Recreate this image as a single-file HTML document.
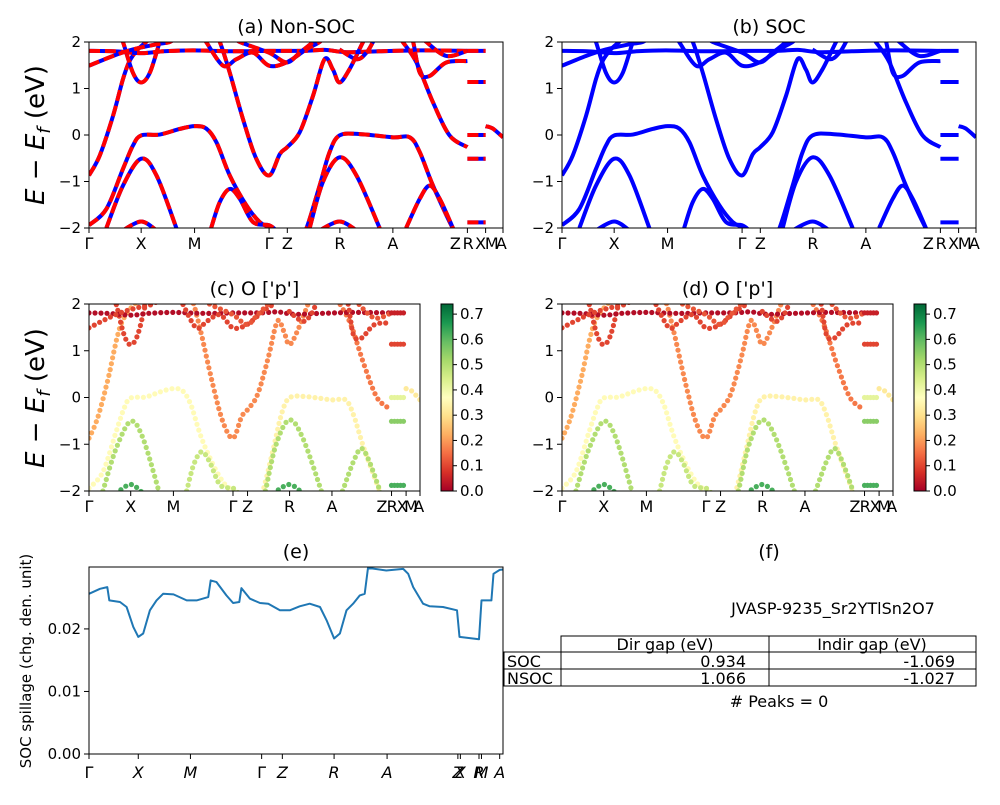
<!DOCTYPE html>
<html><head><meta charset="utf-8"><style>
body{margin:0;background:#fff}
svg{font-family:"DejaVu Sans","Liberation Sans",sans-serif}
</style></head><body>
<svg id="fig" width="1000" height="800" viewBox="0 0 1000 800" xmlns="http://www.w3.org/2000/svg">
<defs>
<linearGradient id="rdylgn" x1="0" y1="1" x2="0" y2="0">
<stop offset="0" stop-color="#a50026"/><stop offset="0.1" stop-color="#d73027"/><stop offset="0.2" stop-color="#f46d43"/><stop offset="0.3" stop-color="#fdae61"/><stop offset="0.4" stop-color="#fee08b"/><stop offset="0.5" stop-color="#ffffbf"/><stop offset="0.6" stop-color="#d9ef8b"/><stop offset="0.7" stop-color="#a6d96a"/><stop offset="0.8" stop-color="#66bd63"/><stop offset="0.9" stop-color="#1a9850"/><stop offset="1" stop-color="#006837"/>
</linearGradient>
<clipPath id="cA"><rect x="89" y="42" width="414" height="186"/></clipPath>
<clipPath id="cB"><rect x="562" y="42" width="414" height="186"/></clipPath>
<clipPath id="cC"><rect x="89" y="304" width="331" height="187"/></clipPath>
<clipPath id="cD"><rect x="562" y="304" width="331" height="187"/></clipPath>
</defs>
<g id="layer"></g>
</svg>
<script>
// ---- band data: [k (0..100 along path), E (eV)] ----
const bandVA1=[[0,-1.94],[4.2,-1.59],[8.2,-0.73],[10.6,-0.23],[12.6,-0.01],[17.1,0.01],[21.9,0.13],[25.5,0.19],[28.3,0.14],[30.8,-0.16],[34.0,-0.87],[38.0,-1.51],[41.2,-1.87],[43.5,-1.98],[45,-2.1]];
const bandVA2=[[51,-2.1],[52.5,-2.01],[55.7,-1.09],[58.1,-0.37],[60.5,-0.01],[65.4,0.02],[73.4,-0.05],[77.5,-0.05],[79.9,-0.37],[83.1,-1.09],[87.9,-2.01],[89,-2.1]];
const bandCB1=[[0,-0.87],[2.6,-0.44],[5.8,0.41],[8.2,1.2],[9.8,1.59],[11.8,1.84],[13.8,2.0],[15,2.1]];
const bandCB2=[[30.5,2.1],[31.6,2.0],[34.0,1.34],[37.2,0.34],[40.4,-0.51],[43.5,-0.87],[46.1,-0.41],[47.9,-0.26],[50.9,0.06],[54.1,0.84],[56.9,1.63],[58.9,1.41],[60.5,1.13],[62.9,1.41],[66.2,2.0],[67,2.1]];
const bandCB3=[[75,2.1],[75.8,2.0],[79.1,1.56],[83.1,0.7],[87.1,-0.01],[91.4,-0.26]];
const bandXV=[[7.5,2.1],[8.2,2.0],[10.6,1.34],[12.6,1.13],[14.7,1.34],[17.1,2.0],[17.8,2.1]];
const bandV2X=[[4.2,-2],[8.2,-1.09],[12.6,-0.51],[16.3,-0.87],[21.1,-2],[21.5,-2.1]];
const bandV2R=[[53.3,-2],[56.5,-1.01],[60.5,-0.48],[64.6,-0.87],[70.2,-2],[70.6,-2.1]];
const bandV2MG=[[29.5,-2],[31.6,-1.44],[34.0,-1.16],[36.4,-1.37],[39.6,-1.87],[43.5,-1.94],[45.2,-2.05]];
const bandV2AZ=[[76.6,-2],[79.9,-1.37],[82.3,-1.09],[84.7,-1.37],[87.9,-2],[88.3,-2.1]];
const bandDX=[[8.2,-2.05],[12.6,-1.86],[16.3,-2.05]];
const bandDR=[[55.7,-2.05],[60.5,-1.86],[64.6,-2.05]];
const bandFlat=[[0,1.81],[6,1.8],[12.6,1.76],[18,1.8],[25.1,1.82],[35,1.8],[43.5,1.81],[52,1.81],[57,1.83],[62.2,1.78],[70,1.8],[80,1.82],[91.4,1.81]];
const bandG1=[[0,1.49],[5.8,1.7],[10.6,1.84],[16.3,1.95],[19.5,2.0],[21,2.1]];
const bandU1=[[27.5,2.1],[28.3,2.0],[32.4,1.49],[35.6,1.63],[39.6,1.77],[43.5,1.49],[47.7,1.56],[52.5,1.84],[55.7,2.0],[56.5,2.1]];
const bandU2=[[35.6,2.1],[36.4,2.0],[43.5,1.77],[47.7,1.56],[50.9,1.77],[54.1,2.0],[55,2.1]];
const bandU3=[[60.5,1.84],[64.6,1.63],[67.0,1.77],[68.6,2.0],[69.3,2.1]];
const bandU4=[[77.5,2.1],[78.3,2.0],[79.9,1.34],[82.3,1.27],[86.3,1.56],[91.4,1.59]];
const bandU5=[[80.7,2.1],[81.5,2.0],[86.3,1.7],[91.4,1.81]];
const segE=[1.81,1.14,0.0,-0.51,-1.88];
const bandTail=[[95.8,0.19],[97.5,0.14],[100,-0.05]];
const bands=[bandVA1,bandVA2,bandCB1,bandCB2,bandCB3,bandXV,bandV2X,bandV2R,bandV2MG,bandV2AZ,bandDX,bandDR,bandFlat,bandG1,bandU1,bandU2,bandU3,bandU4,bandU5,bandTail];
const bandW=[0.36,0.34,0.22,0.18,0.16,0.1,0.5,0.5,0.47,0.5,0.62,0.62,0.02,0.1,0.1,0.12,0.1,0.1,0.12,0.32];
const segW=[0.05,0.1,0.42,0.55,0.62];
const kTicks=[0,12.6,25.5,43.5,47.9,60.6,73.4,91.4,95.8,100];
const kLabels=["Γ","X","M","Γ","Z","R","A","Z","R","X","M","A"];
const kLabelPos=[0,12.6,25.5,43.5,47.9,60.6,73.4,88.5,91.6,94.6,97.3,99.6];
const eTicks=[2,1,0,-1,-2];
const cbTicks=[0.0,0.1,0.2,0.3,0.4,0.5,0.6,0.7];
const spK=[0,2.65,4.42,4.91,7.48,9.09,10.7,11.9,13.1,14.7,16.3,17.9,20.4,23.6,26.0,28.8,29.4,30.8,33.2,34.8,36.3,36.8,38.9,41.3,43.3,46.1,48.5,50.9,53.3,55.8,57.4,59.2,60.6,62.2,63.8,65.4,66.6,67.4,71.8,75.9,77.1,78.3,80.7,82.3,85.5,88.9,89.5,94.2,94.8,97.2,97.7,99.2,100];
const spV=[.02562,.02642,.02668,.02456,.02430,.02350,.02032,.01873,.01926,.02297,.02456,.02562,.02552,.02456,.02456,.02509,.02775,.02748,.02536,.02414,.02430,.02653,.02483,.02414,.02403,.02297,.02297,.02361,.02403,.02350,.02138,.01846,.01926,.02297,.02403,.02536,.02562,.02976,.02934,.02960,.02881,.02668,.02403,.02361,.02350,.02297,.01873,.01836,.02456,.02456,.02881,.02944,.02950];
const spTicks=[0.00,0.01,0.02];
const spKTicks=[0,11.9,24.5,41.7,46.7,59.2,72.0,89.1,89.7,94.2,94.8,99.2];
const spKLabels=["Γ","X","M","Γ","Z","R","A","Z","X","R","M","A"];
const tRows=["SOC","NSOC"];
const tDir=["0.934","1.066"];
const tInd=["-1.069","-1.027"];

const NS="http://www.w3.org/2000/svg";
const layer=document.getElementById('layer');
function mk(tag,attrs,parent){const e=document.createElementNS(NS,tag);for(const k in attrs)e.setAttribute(k,attrs[k]);(parent||layer).appendChild(e);return e;}
function txt(x,y,s,size,anchor,parent,extra){const t=mk('text',Object.assign({x:x,y:y,'font-size':size,'text-anchor':anchor||'middle',fill:'#000'},extra||{}),parent);t.textContent=s;return t;}
function smooth(pts){let d='M'+pts[0][0]+','+pts[0][1];for(let i=0;i<pts.length-1;i++){const p0=pts[i-1]||pts[i],p1=pts[i],p2=pts[i+1],p3=pts[i+2]||p2;const c1=[p1[0]+(p2[0]-p0[0])/6,p1[1]+(p2[1]-p0[1])/6],c2=[p2[0]-(p3[0]-p1[0])/6,p2[1]-(p3[1]-p1[1])/6];d+=' C'+c1[0]+','+c1[1]+' '+c2[0]+','+c2[1]+' '+p2[0]+','+p2[1];}return d;}
function rdylgn(v){const stops=['#a50026','#d73027','#f46d43','#fdae61','#fee08b','#ffffbf','#d9ef8b','#a6d96a','#66bd63','#1a9850','#006837'];let t=Math.max(0,Math.min(1,v/0.74))*10;const i=Math.min(9,Math.floor(t)),f=t-i;const a=stops[i],b=stops[i+1];const c=j=>Math.round(parseInt(a.substr(j,2),16)*(1-f)+parseInt(b.substr(j,2),16)*f);return 'rgb('+c(1)+','+c(3)+','+c(5)+')';}

function bandPanel(cfg){
  const g=mk('g',{});
  
  
  const X=k=>cfg.x0+k/100*cfg.w, Y=E=>cfg.y0+(2-E)/4*cfg.h;
  const pg=mk('g',{'clip-path':'url(#'+cfg.clip+')'},g);
  const allBands=bands.map((b,i)=>({pts:b,w:bandW[i]}));
  segE.forEach((e,i)=>allBands.push({pts:[[91.4,e],[95.8,e]],w:segW[i],seg:true}));
  allBands.forEach((b,bi)=>{
    const pts=b.pts.map(p=>[X(p[0]),Y(p[1])]);
    const d=b.seg?('M'+pts[0][0]+','+pts[0][1]+' L'+pts[1][0]+','+pts[1][1]):smooth(pts);
    if(cfg.mode==='dots'){
      const tmp=mk('path',{d:d,fill:'none',stroke:'none'},pg);
      const L=tmp.getTotalLength();
      for(let s=0;s<=L;s+=(b.seg?3:6)){const p=tmp.getPointAtLength(s);
        const c=mk('circle',{cx:p.x.toFixed(1),cy:p.y.toFixed(1),r:2.6,fill:rdylgn(b.w)},pg);
        
        }
      tmp.remove();
    } else {
      const bl=mk('path',{d:d,fill:'none',stroke:'#0000ff','stroke-width':4},pg);
      
      
      if(cfg.mode==='dash'){const r=mk('path',{d:d,fill:'none',stroke:'#ff0000','stroke-width':4,'stroke-dasharray':'11 5'},pg);
        
        }
    }
  });
  const fr=mk('rect',{x:cfg.x0,y:cfg.y0,width:cfg.w,height:cfg.h,fill:'none',stroke:'#000','stroke-width':1},g);
  
  
  eTicks.forEach(e=>{const y=Y(e);mk('line',{x1:cfg.x0-5,x2:cfg.x0,y1:y,y2:y,stroke:'#000'},g);
    const t=txt(cfg.x0-8,y+5,e<0?'−'+(-e):String(e),15,'end',g);
    
    });
  kTicks.forEach(k=>mk('line',{x1:X(k),x2:X(k),y1:cfg.y0+cfg.h,y2:cfg.y0+cfg.h+5,stroke:'#000'},g));
  kLabels.forEach((s,i)=>{const t=txt(X(kLabelPos[i]),cfg.y0+cfg.h+21,s,16,'middle',g);
    
    });
  const tt=txt(cfg.x0+cfg.w/2,cfg.y0-9,cfg.title,19,'middle',g);
  
  
  if(cfg.cbx){
    const cb=mk('rect',{x:cfg.cbx,y:cfg.y0,width:12,height:cfg.h,fill:'url(#rdylgn)',stroke:'#000','stroke-width':1},g);
    
    
    cbTicks.forEach(v=>{const y=cfg.y0+cfg.h-v/0.74*cfg.h;mk('line',{x1:cfg.cbx+12,x2:cfg.cbx+16,y1:y,y2:y,stroke:'#000'},g);
      const t=txt(cfg.cbx+19,y+5,v.toFixed(1),15,'start',g);
      
      });
  }
}
bandPanel({name:'panel-a-nonsoc',x0:89,y0:42,w:414,h:186,clip:'cA',mode:'dash',title:'(a) Non-SOC'});
bandPanel({name:'panel-b-soc',x0:562,y0:42,w:414,h:186,clip:'cB',mode:'line',title:'(b) SOC'});
bandPanel({name:'panel-c-projection',x0:89,y0:304,w:331,h:187,clip:'cC',mode:'dots',title:"(c)  O ['p']",cbx:441});
bandPanel({name:'panel-d-projection',x0:562,y0:304,w:331,h:187,clip:'cD',mode:'dots',title:"(d) O ['p']",cbx:914});

[135,398].forEach(cy=>{const t=mk('text',{x:0,y:0,'font-size':26,'text-anchor':'middle',transform:'translate(44,'+cy+') rotate(-90)'});
  
  
  t.innerHTML='<tspan font-style="italic">E</tspan> − <tspan font-style="italic">E</tspan><tspan font-style="italic" font-size="18" dy="6">f</tspan><tspan dy="-6"> (eV)</tspan>';});

(function(){
  const g=mk('g',{});
  
  
  const x0=89,w=414,y0=567,h=187,vmax=0.0299;
  const X=k=>x0+k/100*w, Y=v=>y0+h-v/vmax*h;
  const d=spK.map((k,i)=>(i?'L':'M')+X(k).toFixed(1)+','+Y(spV[i]).toFixed(1)).join(' ');
  const p=mk('path',{d:d,fill:'none',stroke:'#1f77b4','stroke-width':2,'stroke-linejoin':'round'},g);
  
  
  mk('rect',{x:x0,y:y0,width:w,height:h,fill:'none',stroke:'#000'},g);
  spTicks.forEach(v=>{const y=Y(v);mk('line',{x1:x0-5,x2:x0,y1:y,y2:y,stroke:'#000'},g);
    const t=txt(x0-8,y+5,v.toFixed(2),15,'end',g);
    
    });
  spKTicks.forEach((k,i)=>{mk('line',{x1:X(k),x2:X(k),y1:y0+h,y2:y0+h+5,stroke:'#000'},g);
    const t=txt(X(k),y0+h+24,spKLabels[i],16,'middle',g,{'font-style':spKLabels[i]==='Γ'?'normal':'italic'});
    
    });
  const tt=txt(x0+w/2,y0-9,'(e)',19,'middle',g);
  
  
  const yl=mk('text',{x:0,y:0,'font-size':15,'text-anchor':'middle',transform:'translate(31,661) rotate(-90)'},g);
  yl.textContent='SOC spillage (chg. den. unit)';
  
  
})();

(function(){
  const g=mk('g',{});
  
  
  const t1=txt(769,558,'(f)',19,'middle',g);
  
  
  const t2=txt(833,614,'JVASP-9235_Sr2YTlSn2O7',16,'middle',g);
  
  
  const L='#000';
  mk('rect',{x:561,y:636,width:415,height:16,fill:'none',stroke:L},g);
  mk('line',{x1:769,x2:769,y1:636,y2:686,stroke:L},g);
  mk('rect',{x:504,y:652,width:472,height:34,fill:'none',stroke:L},g);
  mk('line',{x1:504,x2:976,y1:669,y2:669,stroke:L},g);
  mk('line',{x1:561,x2:561,y1:652,y2:686,stroke:L},g);
  txt(665,650,'Dir gap (eV)',16,'middle',g);
  txt(872,650,'Indir gap (eV)',16,'middle',g);
  tRows.forEach((r,i)=>{const y=667+i*17;
    const a=txt(507,y,r,16,'start',g);
    txt(746,y,tDir[i],16,'end',g);
    txt(955,y,tInd[i],16,'end',g);});
  const t3=txt(779,707,'# Peaks = 0',16,'middle',g);
  
  
})();
</script>
</body></html>
